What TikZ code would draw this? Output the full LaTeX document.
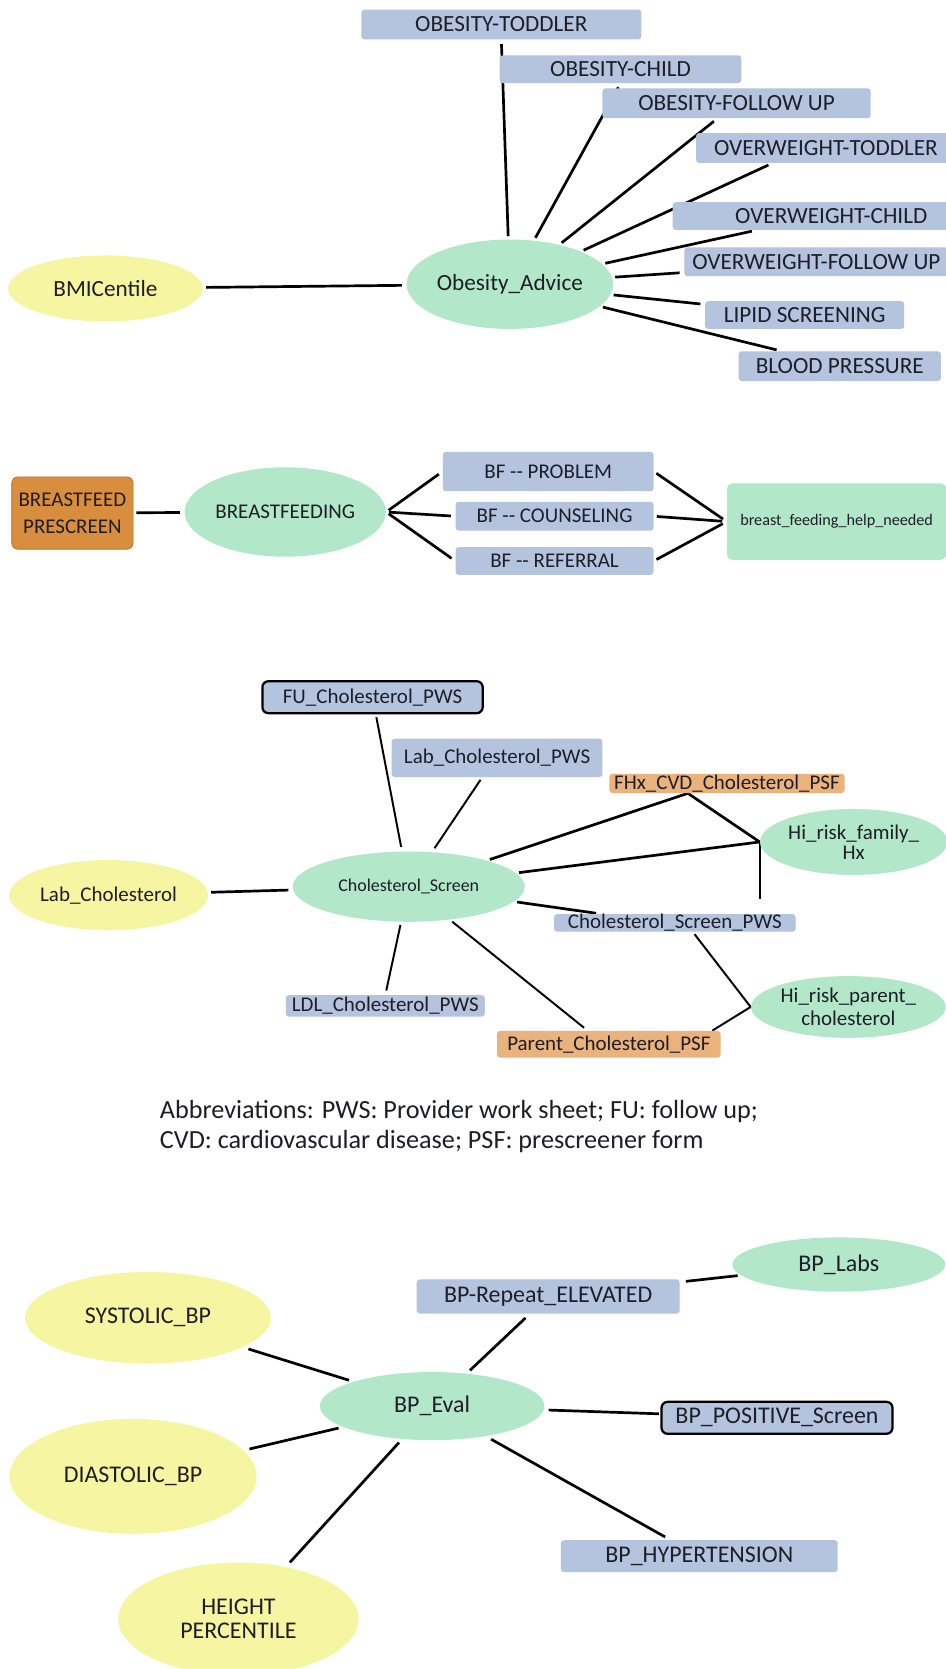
\documentclass[tikz,border=0pt]{standalone}
\usepackage{fontspec}
\setmainfont{Carlito}
\usepackage{tikz}
\usetikzlibrary{shapes.geometric, backgrounds}
\definecolor{pwsblue}{HTML}{B4C3DE}
\definecolor{evalgreen}{HTML}{B2E8C9}
\definecolor{inputyellow}{HTML}{F6F6A2}
\definecolor{prescreenorange}{HTML}{D98D3E}
\definecolor{psforange}{HTML}{EAB27C}
\definecolor{labelink}{HTML}{1E1E28}

\begin{document}
\begin{tikzpicture}[
  x=0.025cm, y=-0.025cm,
  every node/.style={font=\fontsize{15.5}{17}\selectfont, text=labelink, inner sep=0pt, align=center},
  small/.style={font=\fontsize{14}{15}\selectfont},
  large/.style={font=\fontsize{16}{16}\selectfont},
  pws/.style 2 args={rectangle, rounded corners=2pt, fill=pwsblue,
              minimum width=#1*0.025cm, minimum height=#2*0.025cm},
  pwskey/.style 2 args={pws={#1}{#2}, draw=black, line width=1.5pt, rounded corners=4pt},
  psf/.style 2 args={rectangle, rounded corners=2pt, fill=psforange,
              minimum width=#1*0.025cm, minimum height=#2*0.025cm},
  prescreen/.style 2 args={rectangle, rounded corners=4pt, fill=prescreenorange,
              draw=prescreenorange!80!black, minimum width=#1*0.025cm, minimum height=#2*0.025cm},
  evaloval/.style 2 args={ellipse, fill=evalgreen, minimum width=#1*0.025cm, minimum height=#2*0.025cm},
  inputoval/.style 2 args={ellipse, fill=inputyellow, minimum width=#1*0.025cm, minimum height=#2*0.025cm},
  link/.style={line width=1.8pt, shorten <=2pt, shorten >=3pt},
  thinlink/.style={link, line width=1.3pt},
]
  \useasboundingbox (0,0) rectangle (888,1568);

  % obesity
  \node[inputoval={183}{62}] (bmi) at (99,271) {BMICentile};
  \node[evaloval={194}{84}] (oa) at (479,267) {Obesity\_Advice};
  \node[pws={263}{28}] (otod) at (471,23) {OBESITY-TODDLER};
  \node[pws={227}{26}] (ochi) at (583,65) {OBESITY-CHILD};
  \node[pws={252}{28}] (ofol) at (692,97) {OBESITY-FOLLOW UP};
  \node[pws={244}{28}] (wtod) at (776,139) {OVERWEIGHT-TODDLER};
  \node[pws={298}{26}] (wchi) at (781,203) {OVERWEIGHT-CHILD};
  \node[pws={248}{27}] (wfol) at (767,246) {OVERWEIGHT-FOLLOW UP};
  \node[pws={187}{26}] (lipid) at (756,296) {LIPID SCREENING};
  \node[pws={190}{28}] (bp) at (789,344) {BLOOD PRESSURE};

  % breastfeeding
  \node[prescreen={114}{68}, font=\fontsize{14}{18}\selectfont] (bps) at (68,482) {BREASTFEED\\PRESCREEN};
  \node[evaloval={189}{84}, small] (bfe) at (268,481) {BREASTFEEDING};
  \node[pws={198}{37}, small] (bfprob) at (515,443) {BF -{}- PROBLEM};
  \node[pws={186}{27}, small] (bfcoun) at (521,485) {BF -{}- COUNSELING};
  \node[pws={186}{26}, small] (bfref) at (521,527) {BF -{}- REFERRAL};
  \node[rectangle, rounded corners=4pt, fill=evalgreen, minimum width=206*0.025cm, minimum height=72*0.025cm,
        font=\fontsize{10.8}{13}\selectfont] (bfhelp) at (786,490) {breast\_feeding\_help\_needed};

  % cholesterol
  \node[pwskey={207}{30}, small] (fuchol) at (350,655) {FU\_Cholesterol\_PWS};
  \node[pws={198}{36}, small] (labpws) at (467,712) {Lab\_Cholesterol\_PWS};
  \node[psf={221}{18}, small] (fhx) at (683,736) {FHx\_CVD\_Cholesterol\_PSF};
  \node[evaloval={176}{62}, font=\fontsize{14}{13.5}\selectfont] (hrfam) at (802,791) {Hi\_risk\_family\_\\Hx};
  \node[inputoval={187}{66}, small] (labchol) at (102,841) {Lab\_Cholesterol};
  \node[evaloval={218}{66}, font=\fontsize{12}{14}\selectfont] (cs) at (384,833) {Cholesterol\_Screen};
  \node[pws={227}{16}, small] (cspws) at (634,867) {Cholesterol\_Screen\_PWS};
  \node[pws={187}{20}, small] (ldl) at (362,945) {LDL\_Cholesterol\_PWS};
  \node[psf={210}{25}, small] (parpsf) at (572,981) {Parent\_Cholesterol\_PSF};
  \node[evaloval={183}{58}, small] (hrpar) at (797,946) {Hi\_risk\_parent\_\\cholesterol};

  \node[anchor=west, align=left, font=\fontsize{17.5}{20}\selectfont] (abbrev) at (150,1058)
    {Abbreviations: PWS: Provider work sheet; FU: follow up;\\CVD: cardiovascular disease; PSF: prescreener form};

  % blood pressure
  \node[inputoval={231}{86}, large] (sys) at (139,1238) {SYSTOLIC\_BP};
  \node[inputoval={232}{108}, large] (dia) at (125,1387) {DIASTOLIC\_BP};
  \node[inputoval={226}{106}, large] (hgt) at (224,1521) {HEIGHT\\PERCENTILE};
  \node[evaloval={211}{64}, large] (bpe) at (406,1321) {BP\_Eval};
  \node[pws={247}{32}, large] (bprep) at (515,1218) {BP-Repeat\_ELEVATED};
  \node[evaloval={200}{51}, large] (bplabs) at (788,1188) {BP\_Labs};
  \node[pwskey={217}{30}, large] (bppos) at (730,1332) {BP\_POSITIVE\_Screen};
  \node[pws={260}{30}, large] (bphyp) at (657,1462) {BP\_HYPERTENSION};

  \begin{scope}[on background layer]
    \fill[white] (0,0) rectangle (888,1568);
    \draw[link] (bmi) -- (oa);
    \draw[link] (oa) -- (otod.south);
    \draw[link] (oa) -- (ochi.south);
    \draw[link] (oa) -- ([xshift=-0.45cm]ofol.south);
    \draw[link] (oa) -- ([xshift=1.8cm]wtod.south west);
    \draw[link] (oa) -- ([xshift=1.97cm]wchi.south west);
    \draw[link] (oa) -- ([yshift=-0.25cm]wfol.west);
    \draw[link] (oa) -- ([yshift=0.25cm]lipid.west);
    \draw[link] (oa) -- ([xshift=1cm]bp.north west);

    \draw[link] (bps) -- (bfe);
    \draw[link] (bfe.east) -- (bfprob.west);
    \draw[link] (bfe.east) -- (bfcoun.west);
    \draw[link] (bfe.east) -- (bfref.west);
    \draw[link] (bfprob.east) -- (bfhelp.west);
    \draw[link] (bfcoun.east) -- (bfhelp.west);
    \draw[link] (bfref.east) -- (bfhelp.west);

    \draw[link] (labchol) -- (cs);
    \draw[thinlink] (fuchol) -- (cs);
    \draw[thinlink] ([xshift=-0.35cm]labpws.south) -- (cs);
    \draw[link, shorten >=0pt] (cs) -- ([xshift=1.85cm]fhx.south west) -- (hrfam.west);
    \draw[link, shorten >=0pt] (cs) -- (hrfam.west);
    \draw[thinlink, shorten <=0pt] (hrfam.west) -- ([yshift=0.25cm]hrfam.west |- cspws.north);
    \draw[link] (cs) -- ([xshift=1.1cm]cspws.north west);
    \draw[thinlink] (cs) -- (ldl.north);
    \draw[thinlink] (cs) -- ([xshift=-0.5cm]parpsf.north);
    \draw[thinlink, shorten >=0pt] ([xshift=0.42cm]cspws.south) -- (hrpar.west) -- ([xshift=-0.2cm]parpsf.north east);

    \draw[link, shorten <=4pt, shorten >=3pt] (sys) -- (bpe);
    \draw[link, shorten <=4pt, shorten >=3pt] (dia) -- (bpe);
    \draw[link, shorten <=4pt, shorten >=3pt] (hgt) -- (bpe);
    \draw[link, shorten <=3pt, shorten >=4pt] (bpe) -- (bprep);
    \draw[link, shorten <=4pt, shorten >=2pt] (bprep) -- (bplabs);
    \draw[link, shorten <=3pt, shorten >=1pt] (bpe) -- (bppos);
    \draw[link, shorten <=4pt, shorten >=4pt] (bpe) -- (bphyp);
  \end{scope}
\end{tikzpicture}
\end{document}
